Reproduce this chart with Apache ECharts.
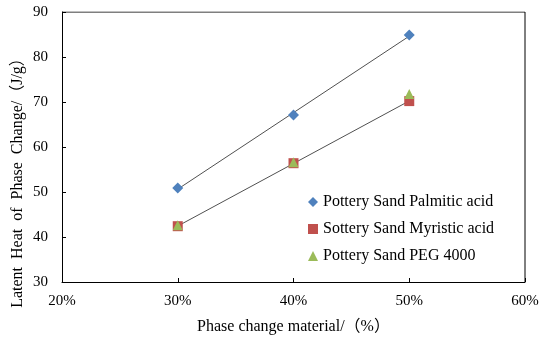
<!DOCTYPE html>
<html><head><meta charset="utf-8">
<script src="https://cdn.jsdelivr.net/npm/echarts@6/dist/echarts.min.js"></script>
<style>html,body{margin:0;padding:0;background:#fff}#c{width:539px;height:338px}</style>
</head><body><div id="c"></div>
<script>
const xValues = [30, 40, 50];
const palmitic = [50.9, 67.1, 84.9];
const myristic = [42.4, 56.4, 70.2];
const peg = [42.6, 56.6, 71.8];
const seriesNames = ['Pottery Sand Palmitic acid', 'Sottery Sand Myristic acid', 'Pottery Sand PEG 4000'];
const xTitle = 'Phase change material/（%）';
const yTitle = 'Latent  Heat  of  Phase  Change/（J/g）';

function fit(xs, ys) {
  const n = xs.length;
  const mx = xs.reduce((a, b) => a + b, 0) / n;
  const my = ys.reduce((a, b) => a + b, 0) / n;
  let sxy = 0, sxx = 0;
  for (let i = 0; i < n; i++) { sxy += (xs[i] - mx) * (ys[i] - my); sxx += (xs[i] - mx) ** 2; }
  const b = sxy / sxx, a = my - b * mx;
  const x0 = xs[0], x1 = xs[n - 1];
  return [[x0, a + b * x0], [x1, a + b * x1]];
}
const pair = (ys) => xValues.map((x, i) => [x, ys[i]]);
const font = '"Liberation Serif", "Noto Sans CJK SC", serif';
const chart = echarts.init(document.getElementById('c'));
const trendStyle = { color: '#505050', width: 1 };
chart.setOption({
  animation: false,
  textStyle: { fontFamily: font },
  grid: { left: 62, right: 14, top: 12, bottom: 56, containLabel: false, outerBoundsMode: 'none' },
  xAxis: {
    type: 'value', min: 20, max: 60, interval: 10,
    axisLine: { onZero: false, lineStyle: { color: '#000', width: 1 } },
    axisTick: { inside: true, length: 4, lineStyle: { color: '#000' } },
    axisLabel: { formatter: '{value}%', color: '#000', fontSize: 15, fontFamily: font, margin: 12 },
    splitLine: { show: false },
    name: xTitle, nameLocation: 'middle', nameGap: 37,
    nameTextStyle: { color: '#000', fontSize: 16, fontFamily: font }
  },
  yAxis: {
    type: 'value', min: 30, max: 90, interval: 10,
    axisLine: { show: true, lineStyle: { color: '#000', width: 1 } },
    axisTick: { show: true, inside: true, length: 4, lineStyle: { color: '#000' } },
    axisLabel: { color: '#000', fontSize: 15, fontFamily: font, margin: 14 },
    splitLine: { show: false }
  },
  graphic: [{
    type: 'text', x: 18, y: 179, rotation: Math.PI / 2,
    style: { text: yTitle, fill: '#000', font: '16px ' + font, textAlign: 'center', textVerticalAlign: 'middle' }
  }],
  legend: {
    orient: 'vertical', left: 308, top: 194, padding: 0, itemGap: 11, itemWidth: 10, itemHeight: 10,
    textStyle: { color: '#000', fontSize: 16, lineHeight: 16, fontFamily: font },
    data: seriesNames
  },
  series: [
    { type: 'line', data: fit(xValues, palmitic), symbol: 'none', lineStyle: trendStyle, silent: true, z: 1 },
    { type: 'line', data: fit(xValues, myristic), symbol: 'none', lineStyle: trendStyle, silent: true, z: 1 },
    { name: seriesNames[0], type: 'scatter', data: pair(palmitic), symbol: 'diamond', symbolSize: 11, itemStyle: { color: '#4F81BD', opacity: 1 }, z: 3 },
    { name: seriesNames[1], type: 'scatter', data: pair(myristic), symbol: 'rect', symbolSize: 10, itemStyle: { color: '#C0504D', opacity: 1 }, z: 3 },
    { name: seriesNames[2], type: 'scatter', data: pair(peg), symbol: 'triangle', symbolSize: 10, itemStyle: { color: '#9BBB59', opacity: 1 }, z: 4 },
    { type: 'line', data: [[60, 30], [60, 90]], symbol: 'none', lineStyle: { color: '#000', width: 1 }, silent: true },
    { type: 'line', data: [[20, 90], [60, 90]], symbol: 'none', lineStyle: { color: '#000', width: 1 }, silent: true }
  ]
});
</script></body></html>
